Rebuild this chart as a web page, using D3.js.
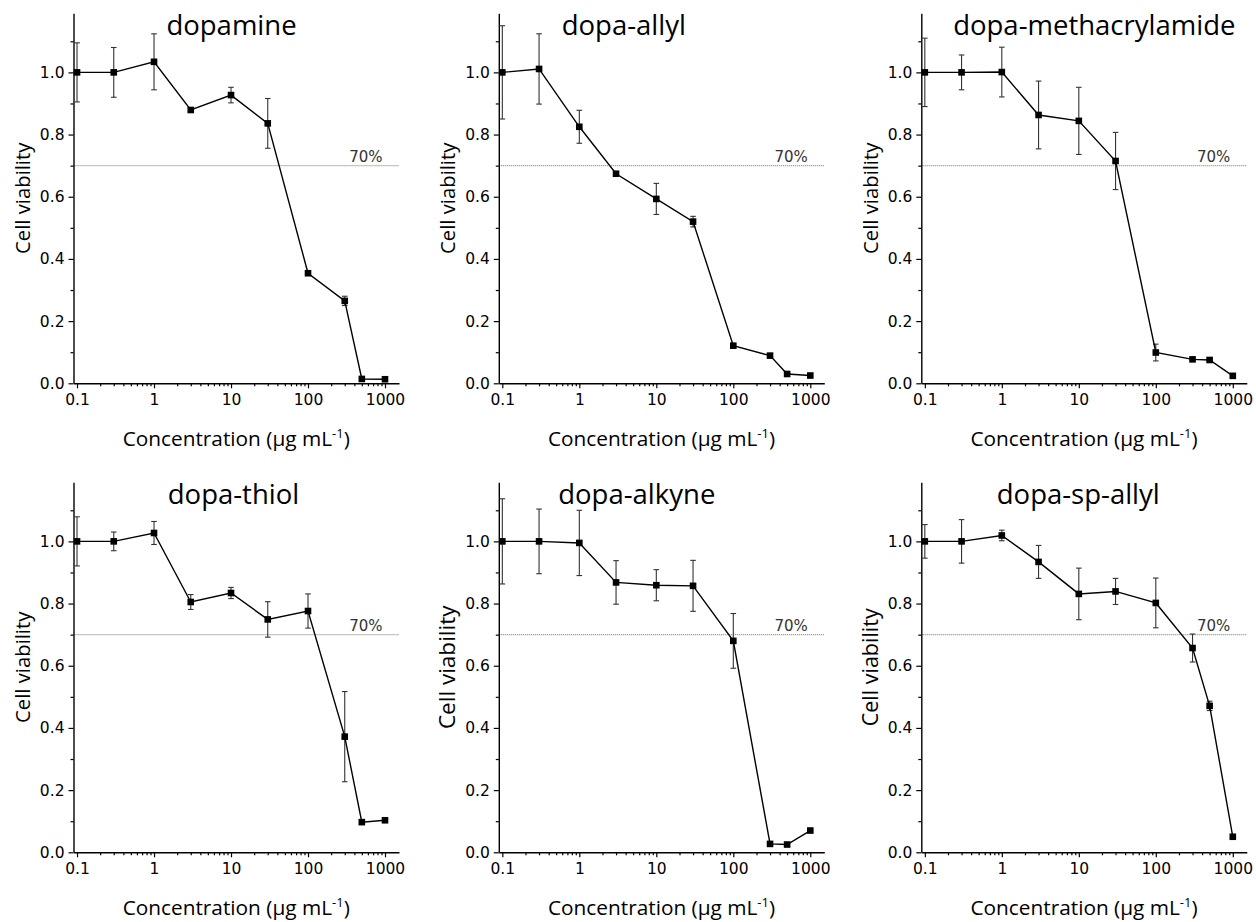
<!DOCTYPE html>
<html>
<head>
<meta charset="utf-8">
<script src="https://cdn.jsdelivr.net/npm/d3@7"></script>
<style>
  html, body { margin: 0; padding: 0; background: #fff; }
  svg { display: block; }
  .tick-label { font-family: "DejaVu Sans", "Liberation Sans", sans-serif; font-size: 15.5px; fill: #000; }
  .axis-title { font-family: "Open Sans", "Lato", sans-serif; fill: #000; }
  .panel-title { font-family: "Open Sans", "Lato", sans-serif; font-size: 27.5px; fill: #000; }
  .ref-label { font-family: "DejaVu Sans", "Liberation Sans", sans-serif; font-size: 15px; fill: #333; }
</style>
</head>
<body>
<svg id="chart" width="1256" height="922"></svg>
<script>
// Concentrations tested (µg/mL), shared by every sample
const concentrations = [0.1, 0.3, 1, 3, 10, 30, 100, 300, 500, 1000];

// Relative cell viability (mean) and standard deviation for each sample
const dopamineViability = [1.000, 1.000, 1.034, 0.879, 0.927, 0.836, 0.354, 0.265, 0.014, 0.013];
const dopamineError     = [0.095, 0.080, 0.090, 0.006, 0.025, 0.080, 0.006, 0.015, 0.004, 0.004];

const allylViability = [1.000, 1.011, 0.825, 0.674, 0.593, 0.520, 0.121, 0.089, 0.030, 0.025];
const allylError     = [0.150, 0.113, 0.053, 0.005, 0.050, 0.017, 0.005, 0.005, 0.004, 0.004];

const methacrylamideViability = [1.000, 1.000, 1.001, 0.863, 0.844, 0.715, 0.099, 0.077, 0.075, 0.024];
const methacrylamideError     = [0.110, 0.056, 0.080, 0.109, 0.108, 0.092, 0.027, 0.005, 0.005, 0.004];

const thiolViability = [1.000, 1.000, 1.027, 0.805, 0.834, 0.749, 0.776, 0.372, 0.097, 0.103];
const thiolError     = [0.079, 0.030, 0.037, 0.024, 0.018, 0.057, 0.055, 0.145, 0.004, 0.004];

const alkyneViability = [1.000, 1.000, 0.995, 0.868, 0.859, 0.857, 0.680, 0.027, 0.025, 0.070];
const alkyneError     = [0.137, 0.104, 0.105, 0.070, 0.050, 0.082, 0.088, 0.004, 0.004, 0.004];

const spAllylViability = [1.000, 1.000, 1.019, 0.934, 0.831, 0.839, 0.802, 0.657, 0.471, 0.050];
const spAllylError     = [0.054, 0.070, 0.017, 0.053, 0.083, 0.042, 0.080, 0.045, 0.015, 0.004];

// Sample names used as panel titles
const sampleNames = ["dopamine", "dopa-allyl", "dopa-methacrylamide", "dopa-thiol", "dopa-alkyne", "dopa-sp-allyl"];
const viabilitySeries = [dopamineViability, allylViability, methacrylamideViability, thiolViability, alkyneViability, spAllylViability];
const errorSeries = [dopamineError, allylError, methacrylamideError, thiolError, alkyneError, spAllylError];

// Axis ticks
const xMajorTicks = [0.1, 1, 10, 100, 1000];
const xTickLabels = ["0.1", "1", "10", "100", "1000"];
const yMajorTicks = [0, 0.2, 0.4, 0.6, 0.8, 1.0];
const yMinorTicks = [0.1, 0.3, 0.5, 0.7, 0.9, 1.1];
const thresholdValue = 0.7;
const thresholdLabel = "70%";

// ---- layout ----
const svg = d3.select("#chart");
const plotW = 325.5;
const plotH = 370;
const colX = [73.5, 498.8, 921.3];
const rowY = [383.3, 852.3];         // y position of the x axis in each row
const titleOffset = [158, 125, 173, 160, 138, 157];   // title centre relative to the y axis
const yTitleSize = [20.3, 20.3, 20.3, 20.3, 22.5, 21.5];

// minor ticks on the log axis: 2..9 within each decade
const xMinorTicks = [];
[0.1, 1, 10, 100].forEach(d => { for (let k = 2; k <= 9; k++) xMinorTicks.push(+(d * k).toPrecision(3)); });

sampleNames.forEach((name, i) => {
  const col = i % 3, row = Math.floor(i / 3);
  const g = svg.append("g").attr("transform", `translate(${colX[col]},${rowY[row] - plotH})`);

  const x = d3.scaleLog().domain([0.09, 1520]).range([0, plotW]);
  const y = d3.scaleLinear().domain([0, 1.19]).range([plotH, 0]);

  // 70 % reference line
  g.append("line")
    .attr("x1", 0).attr("x2", plotW)
    .attr("y1", y(thresholdValue)).attr("y2", y(thresholdValue))
    .attr("stroke", "#8c8c8c").attr("stroke-width", 1.1)
    .attr("stroke-dasharray", "1,1");
  g.append("text").attr("class", "ref-label")
    .attr("x", x(1000) - 2.5).attr("y", y(thresholdValue) - 3.5)
    .attr("text-anchor", "end").text(thresholdLabel);

  // x axis (major + minor ticks)
  g.append("g").attr("transform", `translate(0,${plotH})`)
    .call(d3.axisBottom(x).tickValues(xMajorTicks)
      .tickFormat((d, k) => xTickLabels[k]).tickSize(5).tickSizeOuter(0).tickPadding(6));
  g.append("g").attr("transform", `translate(0,${plotH})`)
    .call(d3.axisBottom(x).tickValues(xMinorTicks).tickFormat("").tickSize(3).tickSizeOuter(0))
    .call(a => a.select(".domain").remove());

  // y axis (major + minor ticks)
  g.append("g")
    .call(d3.axisLeft(y).tickValues(yMajorTicks).tickFormat(d3.format(".1f"))
      .tickSize(5).tickSizeOuter(0).tickPadding(4));
  g.append("g")
    .call(d3.axisLeft(y).tickValues(yMinorTicks).tickFormat("").tickSize(3).tickSizeOuter(0))
    .call(a => a.select(".domain").remove());

  g.selectAll(".domain").attr("stroke", "#000").attr("stroke-width", 1.4);
  g.selectAll(".tick line").attr("stroke", "#000").attr("stroke-width", 1.2);
  g.selectAll(".tick text").attr("class", "tick-label").attr("font-family", null).attr("font-size", null);

  // data
  const vals = viabilitySeries[i], errs = errorSeries[i];
  const pts = concentrations.map((c, k) => ({ c, v: vals[k], e: errs[k] }));

  // error bars
  const eb = g.append("g").attr("stroke", "#333").attr("stroke-width", 1.1);
  pts.forEach(p => {
    const cx = x(p.c);
    eb.append("line").attr("x1", cx).attr("x2", cx).attr("y1", y(p.v + p.e)).attr("y2", y(p.v - p.e));
    eb.append("line").attr("x1", cx - 2.8).attr("x2", cx + 2.8).attr("y1", y(p.v + p.e)).attr("y2", y(p.v + p.e));
    eb.append("line").attr("x1", cx - 2.8).attr("x2", cx + 2.8).attr("y1", y(p.v - p.e)).attr("y2", y(p.v - p.e));
  });

  // connecting line
  g.append("path").datum(pts)
    .attr("fill", "none").attr("stroke", "#000").attr("stroke-width", 1.4)
    .attr("d", d3.line().x(p => x(p.c)).y(p => y(p.v)));

  // square markers
  const ms = 6.6;
  g.selectAll("rect.marker").data(pts).join("rect")
    .attr("class", "marker")
    .attr("x", p => x(p.c) - ms / 2).attr("y", p => y(p.v) - ms / 2)
    .attr("width", ms).attr("height", ms).attr("fill", "#000");

  // panel title
  g.append("text").attr("class", "panel-title")
    .attr("x", titleOffset[i]).attr("y", 21.3)
    .attr("text-anchor", "middle").text(name);

  // axis titles
  g.append("text").attr("class", "axis-title")
    .attr("transform", `translate(-43.5,${plotH / 2}) rotate(-90)`)
    .attr("text-anchor", "middle").attr("font-size", yTitleSize[i])
    .text("Cell viability");

  const xt = g.append("text").attr("class", "axis-title")
    .attr("x", plotW / 2).attr("y", plotH + 62.7)
    .attr("text-anchor", "middle").attr("font-size", 20.8);
  xt.append("tspan").text("Concentration (\u03bcg mL");
  xt.append("tspan").attr("font-size", 13).attr("dy", -8).text("-1");
  xt.append("tspan").attr("dy", 8).text(")");
});
</script>
</body>
</html>
